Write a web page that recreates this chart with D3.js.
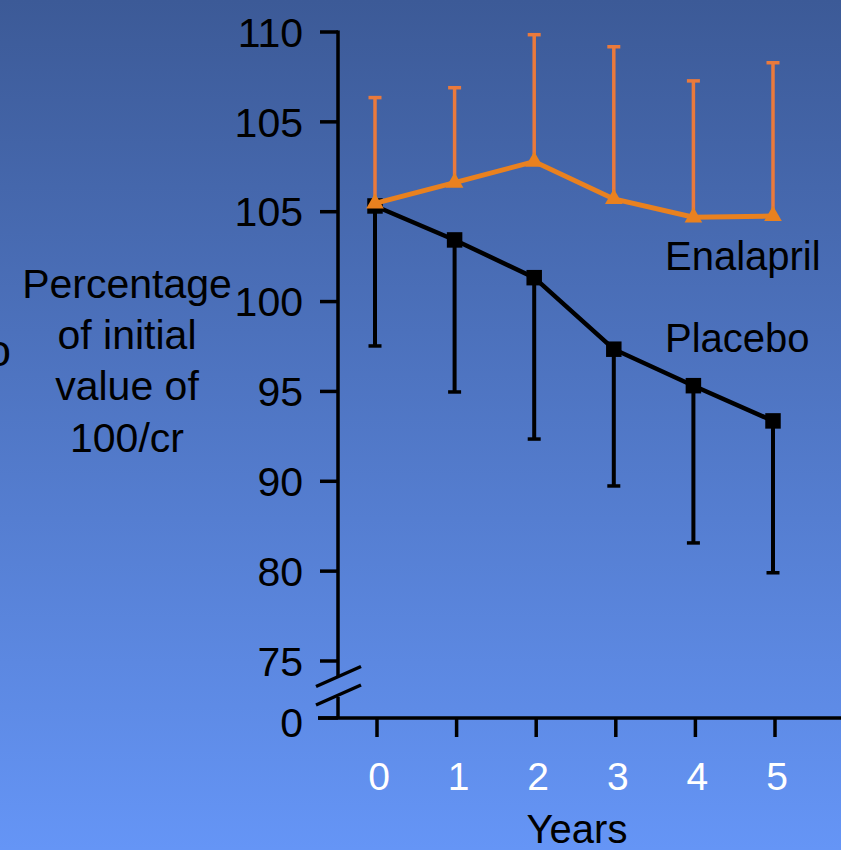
<!DOCTYPE html>
<html>
<head>
<meta charset="utf-8">
<script src="https://cdn.jsdelivr.net/npm/d3@7"></script>
<style>
  html, body { margin: 0; padding: 0; overflow: hidden; }
  svg { display: block; }
  text { font-family: "Liberation Sans", Arial, sans-serif; }
</style>
</head>
<body>
<svg id="chart" width="841" height="850"></svg>
<script>
// ---- data ----
const years = [0, 1, 2, 3, 4, 5];
const enalaprilMean  = [100.46, 101.62, 102.79, 100.71, 99.69, 99.76];
const enalaprilUpper = [106.35, 106.90, 109.85, 109.18, 107.28, 108.29];
const placeboMean    = [100.32, 98.43, 96.33, 92.35, 90.32, 88.36];
const placeboLower   = [92.53, 89.97, 87.35, 84.74, 81.57, 79.91];
const yTickValues = [75, 80, 85, 90, 95, 100, 105, 110];
const yTickLabels = ["75", "80", "90", "95", "100", "105", "105", "110"];
const yTitleLines = ["Percentage", "of initial", "value of", "100/cr"];
const seriesNames = ["Enalapril", "Placebo"];

// ---- setup ----
const svg = d3.select("#chart");
const W = 841, H = 850;

const defs = svg.append("defs");
const grad = defs.append("linearGradient").attr("id", "bg")
  .attr("x1", 0).attr("y1", 0).attr("x2", 0).attr("y2", 1);
grad.append("stop").attr("offset", "0%").attr("stop-color", "#3c5a97");
grad.append("stop").attr("offset", "100%").attr("stop-color", "#6595f6");
svg.append("rect").attr("width", W).attr("height", H).attr("fill", "url(#bg)");

const x = d3.scaleLinear().domain([0, 5]).range([375, 773]);
const y = d3.scaleLinear().domain([75, 110]).range([661, 32]);

const axisX = 338, baseY = 718;
const black = "#000";
const orangeLine = "#e9811f";
const orangeBar = "#ea7a3c";

// ---- y axis ----
const gY = svg.append("g");
gY.append("line").attr("x1", axisX).attr("x2", axisX)
  .attr("y1", y(110) - 1.5).attr("y2", 676)
  .attr("stroke", black).attr("stroke-width", 3.5);
gY.append("line").attr("x1", axisX).attr("x2", axisX)
  .attr("y1", 697).attr("y2", baseY)
  .attr("stroke", black).attr("stroke-width", 3.5);
yTickValues.forEach((v, i) => {
  gY.append("line").attr("x1", 320).attr("x2", axisX)
    .attr("y1", y(v)).attr("y2", y(v))
    .attr("stroke", black).attr("stroke-width", 3.5);
  gY.append("text").attr("x", 303).attr("y", y(v)).attr("dy", "0.36em")
    .attr("text-anchor", "end").attr("font-size", 41).attr("fill", black)
    .text(yTickLabels[i]);
});
// zero tick
gY.append("line").attr("x1", 318).attr("x2", axisX)
  .attr("y1", baseY).attr("y2", baseY)
  .attr("stroke", black).attr("stroke-width", 3.5);
gY.append("text").attr("x", 303).attr("y", baseY + 4).attr("dy", "0.36em")
  .attr("text-anchor", "end").attr("font-size", 41).attr("fill", black).text("0");
// axis break
[0, 18.5].forEach(off => {
  gY.append("line").attr("x1", 316).attr("y1", 686.5 + off)
    .attr("x2", 361).attr("y2", 666.5 + off)
    .attr("stroke", black).attr("stroke-width", 3.5);
});

// ---- x axis ----
const gX = svg.append("g");
gX.append("line").attr("x1", 318).attr("x2", W)
  .attr("y1", baseY).attr("y2", baseY)
  .attr("stroke", black).attr("stroke-width", 3.5);
years.forEach(yr => {
  const tx = x(yr) + 2;
  gX.append("line").attr("x1", tx).attr("x2", tx)
    .attr("y1", baseY).attr("y2", 737)
    .attr("stroke", black).attr("stroke-width", 3.5);
  gX.append("text").attr("x", tx + 2).attr("y", 776).attr("dy", "0.36em")
    .attr("text-anchor", "middle").attr("font-size", 39).attr("fill", "#fff")
    .text(yr);
});
svg.append("text").attr("x", 577).attr("y", 843)
  .attr("text-anchor", "middle").attr("font-size", 40).attr("fill", black)
  .text("Years");

// ---- y title ----
const title = svg.append("text").attr("text-anchor", "middle")
  .attr("font-size", 41).attr("fill", black);
yTitleLines.forEach((t, i) => {
  title.append("tspan").attr("x", 127).attr("y", 298 + i * 51.2).text(t);
});
// clipped fragment at the left edge (as in the reference)
svg.append("text").attr("x", 11).attr("y", 366).attr("text-anchor", "end")
  .attr("font-size", 44).attr("fill", black).text("o");

// ---- placebo ----
const gP = svg.append("g");
years.forEach((yr, i) => {
  const cx = x(yr);
  gP.append("line").attr("x1", cx).attr("x2", cx)
    .attr("y1", y(placeboMean[i])).attr("y2", y(placeboLower[i]))
    .attr("stroke", black).attr("stroke-width", 4);
  gP.append("line").attr("x1", cx - 6.5).attr("x2", cx + 6.5)
    .attr("y1", y(placeboLower[i])).attr("y2", y(placeboLower[i]))
    .attr("stroke", black).attr("stroke-width", 3.5);
});
const line = d3.line().x((d, i) => x(years[i])).y(d => y(d));
gP.append("path").datum(placeboMean).attr("d", line)
  .attr("fill", "none").attr("stroke", black).attr("stroke-width", 4.5);
gP.selectAll("path.sq").data(placeboMean).join("path").attr("class", "sq")
  .attr("d", d3.symbol(d3.symbolSquare, 240))
  .attr("transform", (d, i) => `translate(${x(years[i])},${y(d)})`)
  .attr("fill", black);

// ---- enalapril ----
const gE = svg.append("g");
years.forEach((yr, i) => {
  const cx = x(yr);
  gE.append("line").attr("x1", cx).attr("x2", cx)
    .attr("y1", y(enalaprilMean[i])).attr("y2", y(enalaprilUpper[i]))
    .attr("stroke", orangeBar).attr("stroke-width", 3.5);
  gE.append("line").attr("x1", cx - 6.5).attr("x2", cx + 6.5)
    .attr("y1", y(enalaprilUpper[i])).attr("y2", y(enalaprilUpper[i]))
    .attr("stroke", orangeBar).attr("stroke-width", 3.5);
});
gE.append("path").datum(enalaprilMean).attr("d", line)
  .attr("fill", "none").attr("stroke", orangeLine).attr("stroke-width", 5);
gE.selectAll("path.tri").data(enalaprilMean).join("path").attr("class", "tri")
  .attr("d", d3.symbol(d3.symbolTriangle, 135))
  .attr("transform", (d, i) => `translate(${x(years[i])},${y(d)})`)
  .attr("fill", orangeLine);

// ---- series labels ----
svg.append("text").attr("x", 665).attr("y", 270)
  .attr("font-size", 40).attr("fill", black).text(seriesNames[0]);
svg.append("text").attr("x", 665).attr("y", 352)
  .attr("font-size", 40).attr("fill", black).text(seriesNames[1]);
</script>
</body>
</html>
